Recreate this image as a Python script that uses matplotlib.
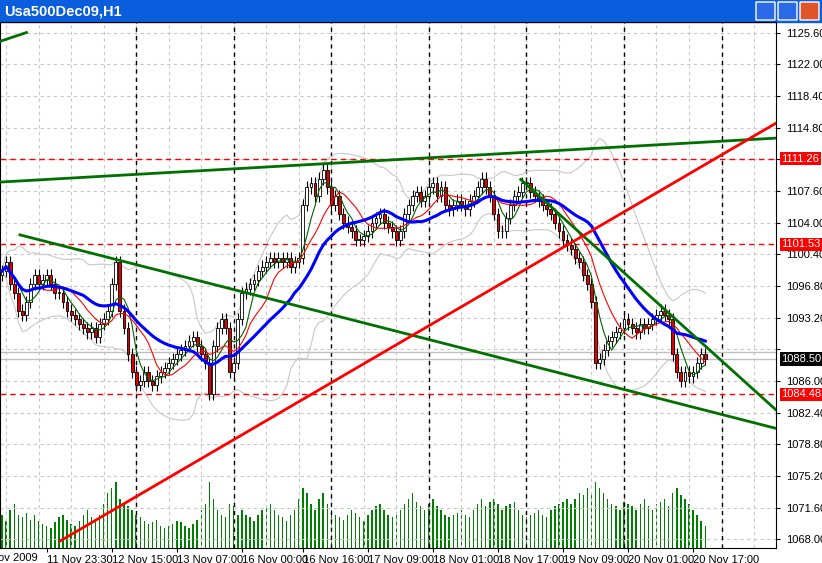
import numpy as np
import pandas as pd
import matplotlib
matplotlib.use("Agg")
import matplotlib.pyplot as plt
from matplotlib.patches import Rectangle, FancyBboxPatch

plt.rcParams['font.family'] = ['Liberation Sans', 'DejaVu Sans']

closes = [1098.5,1099.5,1097,1096,1094,1093.5,1095,1097,1098,1097,
1097.5,1098,1097,1096,1096,1095,1094,1093.5,1093,1092.5,
1092,1091.5,1092,1091,1092.5,1093,1094,1097,1099.5,1094,
1092,1089,1087,1085.5,1086,1087,1086,1085.5,1086.5,1087,
1087.5,1088,1088.5,1089,1089.5,1090,1090.5,1091,1090,1089,
1088,1084.5,1090,1092,1093,1092,1087,1088,1093,1096,
1096.5,1097,1097.5,1098.5,1099,1099.5,1100,1099.5,1100,1099.5,
1100,1099,1099.5,1100,1106,1108,1108.5,1107,1109,1110,
1108,1106,1107,1105,1104,1103.5,1103,1102,1102,1102.5,
1103,1104,1104.5,1105,1104,1103.5,1103,1102,1103,1105,
1106,1107,1107.5,1106.5,1107,1108,1108.5,1107,1108,1106,
1105.5,1106,1106.5,1106,1105.5,1106.5,1107,1108,1109,1108,
1107,1105,1103,1103,1104.5,1106,1107,1107.5,1108.5,1108.5,
1107.5,1107,1106.5,1106,1105.5,1105,1104,1103,1102,1101.5,
1101,1100,1099.5,1098,1097,1095,1088,1088.5,1089.5,1090.5,
1091,1091.5,1092,1093,1092.5,1092,1091.5,1092.5,1092,1092.5,
1093,1093.5,1094,1093.5,1093,1089,1087,1086,1087,1086.5,
1087,1088,1089,1088.5]
volumes = [30,25,35,40,30,28,32,26,30,25,22,20,18,24,28,30,26,22,20,25,
30,35,28,25,30,40,50,55,60,45,40,38,35,30,28,25,22,24,26,20,
18,20,22,25,24,20,18,22,26,35,40,60,45,35,30,28,40,38,30,35,
30,28,25,30,35,38,40,35,30,28,25,30,35,45,55,50,40,35,45,50,
40,35,30,28,26,30,35,32,28,25,30,35,38,40,35,30,28,32,35,40,
45,50,42,38,35,40,45,38,35,30,28,30,32,35,30,28,35,40,45,38,
42,45,40,35,38,40,42,35,30,28,30,32,35,30,28,35,38,40,42,45,
40,45,50,48,55,50,60,55,50,45,40,38,35,42,40,38,35,40,45,38,
35,40,42,45,38,50,55,48,45,40,35,30,25,20]
ticks_idx = [11, 27, 43, 59, 74, 90, 106, 122, 138, 154, 170]
ticks_lbl = ["11 Nov 23:30","12 Nov 15:00","13 Nov 07:00","16 Nov 00:00",
             "16 Nov 16:00","17 Nov 09:00","18 Nov 01:00","18 Nov 17:00",
             "19 Nov 09:00","20 Nov 01:00","20 Nov 17:00"]
first_lbl = "Nov 2009"
hlines_red = [1111.26, 1101.53, 1084.48]
green_lines = [((-0.5, 1108.6), (190.4, 1113.6)),
               ((4.4, 1102.6), (190.4, 1080.6)),
               ((127.6, 1108.9), (190.4, 1082.7))]
red_line = ((14.3, 1067.8), (190.4, 1115.3))

W, H = 822, 563
fig = plt.figure(figsize=(W/100, H/100), dpi=100)
fig.patch.set_facecolor("white")
fig.patches.append(Rectangle((0, (H-22)/H), 1, 22/H, transform=fig.transFigure,
                             color="#0a5ddc", zorder=0))
fig.text(4/W, 1-11/H, "Usa500Dec09,H1", color="white", fontsize=10.5, fontweight="bold",
         va="center", ha="left")
for k, col in enumerate(["#2b6ae6", "#2b6ae6", "#e0542a"]):
    fig.patches.append(FancyBboxPatch(((756+k*22)/W, (H-20)/H), 19/W, 18/H,
                                      boxstyle="round,pad=0", transform=fig.transFigure,
                                      fc=col, ec="white", lw=1))

ax = fig.add_axes([0, 15/H, 776/W, (548-22)/H])
n = len(closes)
x = np.arange(n)
c = np.array(closes)
o = np.concatenate([[c[0]-0.5], c[:-1]])
hi = np.maximum(o, c) + 0.7
lo = np.minimum(o, c) - 0.7

ymin, ymax = 1067.0, 1126.8

axv = ax.twinx()
axv.bar(x, volumes, width=0.35, color="#008000")
axv.set_ylim(0, 480)
axv.set_yticks([])
ax.set_zorder(axv.get_zorder()+1)
ax.patch.set_visible(False)

s = pd.Series(c)
ma5 = s.rolling(5, min_periods=1).mean()
ma10 = s.rolling(10, min_periods=1).mean()
ma21 = s.rolling(21, min_periods=1).mean()
sd = s.rolling(20, min_periods=1).std().fillna(0)
mid = s.rolling(20, min_periods=1).mean()
ax.plot(x, mid+2*sd, color="#c8c8c8", lw=0.8)
ax.plot(x, mid-2*sd, color="#c8c8c8", lw=0.8)

yt = np.arange(1068.0, 1126.0, 3.6)
for yv in yt:
    ax.axhline(yv, color="#c8c8c8", ls=(0, (3, 3)), lw=0.8, zorder=0)
for xv in np.arange(1, 191, 8):
    ax.axvline(xv, color="#c8c8c8", ls=(0, (3, 3)), lw=0.8, zorder=0)
for xv in np.arange(33, 191, 24):
    ax.axvline(xv, color="black", ls=(0, (3, 3)), lw=1, zorder=1)

for xi, oi, ci, h, l in zip(x, o, c, hi, lo):
    ax.vlines(xi, l, h, color="black", lw=0.8, zorder=3)
    bull = ci >= oi
    ax.add_patch(Rectangle((xi-0.35, min(oi, ci)), 0.7, max(abs(ci-oi), 0.08),
                           fc="white" if bull else "#e00000", ec="black", lw=0.6, zorder=4))

ax.plot(x, ma5, color="#006400", lw=0.8, zorder=5)
ax.plot(x, ma10, color="#ff0000", lw=0.8, zorder=5)
ax.plot(x, ma21, color="#0000ff", lw=2.2, zorder=5)

for (p0, p1) in green_lines:
    ax.plot([p0[0], p1[0]], [p0[1], p1[1]], color="#007000", lw=2, zorder=6)
ax.plot([red_line[0][0], red_line[1][0]], [red_line[0][1], red_line[1][1]], color="#ff0000", lw=2, zorder=6)
ax.plot([-0.5, 6], [1124.6, 1125.6], color="#007000", lw=2, zorder=6)
for hv in hlines_red:
    ax.axhline(hv, color="#ff0000", ls=(0, (4, 3)), lw=1, zorder=2)
ax.axhline(1089.25, color="#c0c0c0", lw=1, zorder=2)
ax.axhline(closes[-1], color="#c0c0c0", lw=1, zorder=2)

ax.yaxis.tick_right()
ax.set_yticks(yt)
ylbls = ["" if abs(v-1111.2) < 0.01 or abs(v-1089.6) < 0.01 else f"{v:.2f}" for v in yt]
ax.set_yticklabels(ylbls, fontsize=8)
ax.tick_params(axis="y", length=3, pad=4)
ax.set_xticks(ticks_idx)
ax.set_xticklabels(ticks_lbl, fontsize=8, ha="left")
ax.tick_params(axis="x", length=3, pad=2)
ax.text(38/776, -0.0095, first_lbl, transform=ax.transAxes, fontsize=8,
        ha="right", va="top")
ax.set_xlim(-0.5, 190.4)
ax.set_ylim(ymin, ymax)
axv.set_xlim(-0.5, 190.4)
for sp in ax.spines.values():
    sp.set_color("black")
for sp in axv.spines.values():
    sp.set_visible(False)

for hv, fc in [(1111.26, "#ff0000"), (1101.53, "#ff0000"), (1084.48, "#ff0000"), (closes[-1], "black")]:
    ax.text(1.007, (hv-ymin)/(ymax-ymin), f"{hv:.2f}", transform=ax.transAxes, fontsize=8,
            color="white", va="center", ha="left",
            bbox=dict(boxstyle="square,pad=0.15", fc=fc, ec="none"), zorder=10)

fig.savefig("out.png", dpi=100, facecolor=fig.get_facecolor())
